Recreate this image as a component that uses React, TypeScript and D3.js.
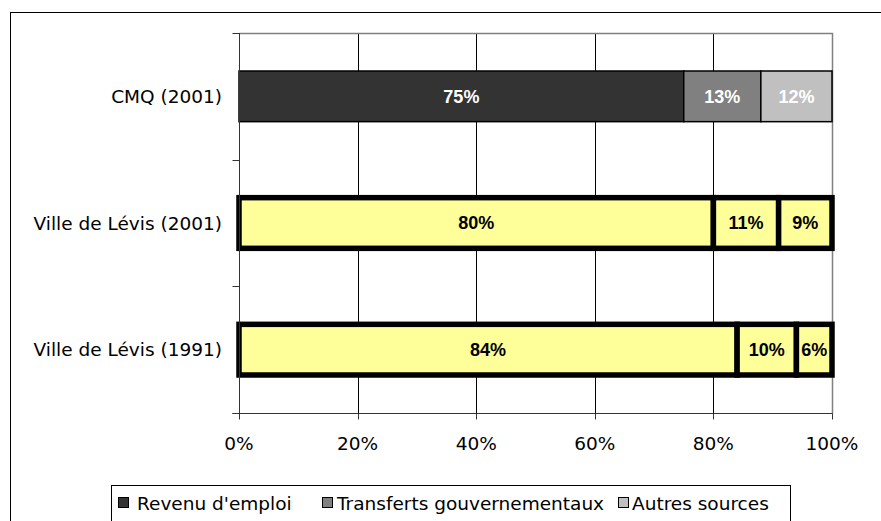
import { useEffect, useRef } from "react";
import * as d3 from "d3";

const categories = ["CMQ (2001)", "Ville de Lévis (2001)", "Ville de Lévis (1991)"];
const seriesNames = ["Revenu d'emploi", "Transferts gouvernementaux", "Autres sources"];
const revenuEmploi = [75, 80, 84];
const transferts = [13, 11, 10];
const autres = [12, 9, 6];
const xTicks = [0, 20, 40, 60, 80, 100];

const seriesColors = ["#333333", "#808080", "#C0C0C0"];
const highlight = "#FFFF99";

export default function App() {
  const svgRef = useRef<SVGSVGElement>(null);

  useEffect(() => {
    if (!svgRef.current) return;
    document.body.style.margin = "0";
    const svg = d3.select(svgRef.current);
    svg.selectAll("*").remove();

    const width = 881;
    const height = 521;
    const margin = { top: 33, right: 49, bottom: 108, left: 239 };
    const font = "'DejaVu Sans', Verdana, sans-serif";

    // outer frame
    svg.append("rect")
      .attr("x", 10.5).attr("y", 12.5)
      .attr("width", width).attr("height", height)
      .attr("fill", "#fff").attr("stroke", "#000");

    const x = d3.scaleLinear().domain([0, 100]).range([margin.left, width - margin.right]);
    const y = d3.scaleBand().domain(categories).range([margin.top, height - margin.bottom]).paddingInner(0.6).paddingOuter(0.3);
    const yBand = d3.scaleBand().domain(categories).range([margin.top, height - margin.bottom]);

    // gridlines
    svg.append("g").selectAll("line")
      .data(xTicks.filter(t => t > 0 && t < 100))
      .enter().append("line")
      .attr("x1", d => Math.round(x(d)) + 0.5).attr("x2", d => Math.round(x(d)) + 0.5)
      .attr("y1", margin.top).attr("y2", height - margin.bottom)
      .attr("stroke", "#000");

    // plot area top / right border
    const x0 = Math.round(x(0)) + 0.5;
    const x1 = Math.round(x(100)) + 0.5;
    const yTop = margin.top + 0.5;
    const yBot = height - margin.bottom + 0.5;
    svg.append("path")
      .attr("d", `M${x0},${yTop}H${x1}V${yBot}`)
      .attr("fill", "none").attr("stroke", "#808080").attr("stroke-width", 1.5);

    // stacked bars
    const rows = categories.map((c, i) => {
      const vals = [revenuEmploi[i], transferts[i], autres[i]];
      let acc = 0;
      return vals.map((v, j) => {
        const seg = { cat: c, row: i, series: j, start: acc, end: acc + v, value: v };
        acc += v;
        return seg;
      });
    });

    rows.forEach((segs, i) => {
      const g = svg.append("g");
      const isLevis = i > 0;
      g.selectAll("rect")
        .data(segs)
        .enter().append("rect")
        .attr("x", d => x(d.start))
        .attr("y", d => y(d.cat)!)
        .attr("width", d => x(d.end) - x(d.start))
        .attr("height", y.bandwidth())
        .attr("fill", d => isLevis ? highlight : seriesColors[d.series])
        .attr("stroke", "#000")
        .attr("stroke-width", isLevis ? 5.5 : 1.5);

      g.selectAll("text")
        .data(segs)
        .enter().append("text")
        .attr("x", d => (x(d.start) + x(d.end)) / 2)
        .attr("y", d => y(d.cat)! + y.bandwidth() / 2)
        .attr("dy", "0.36em")
        .attr("text-anchor", "middle")
        .attr("font-family", "'Liberation Sans', Arial, sans-serif")
        .attr("font-weight", "bold")
        .attr("font-size", 18)
        .attr("fill", isLevis ? "#000" : "#fff")
        .text(d => `${d.value}%`);
    });

    // y axis
    svg.append("line")
      .attr("x1", x0).attr("x2", x0)
      .attr("y1", margin.top).attr("y2", height - margin.bottom + 6)
      .attr("stroke", "#333");
    const yTickPos = [margin.top, ...categories.map(c => yBand(c)! + yBand.bandwidth())];
    svg.append("g").selectAll("line")
      .data(yTickPos)
      .enter().append("line")
      .attr("x1", x0 - 7).attr("x2", x0)
      .attr("y1", d => Math.round(d) + 0.5).attr("y2", d => Math.round(d) + 0.5)
      .attr("stroke", "#333");

    svg.append("g").selectAll("text")
      .data(categories)
      .enter().append("text")
      .attr("x", margin.left - 17)
      .attr("y", d => yBand(d)! + yBand.bandwidth() / 2)
      .attr("dy", "0.36em")
      .attr("text-anchor", "end")
      .attr("font-family", font)
      .attr("font-size", 18.5)
      .attr("fill", "#000")
      .text(d => d);

    // x axis
    svg.append("line")
      .attr("x1", x0 - 7).attr("x2", x1)
      .attr("y1", yBot).attr("y2", yBot)
      .attr("stroke", "#333");
    svg.append("g").selectAll("line")
      .data(xTicks)
      .enter().append("line")
      .attr("x1", d => Math.round(x(d)) + 0.5).attr("x2", d => Math.round(x(d)) + 0.5)
      .attr("y1", yBot).attr("y2", yBot + 6)
      .attr("stroke", "#333");
    svg.append("g").selectAll("text")
      .data(xTicks)
      .enter().append("text")
      .attr("x", d => x(d))
      .attr("y", yBot + 30)
      .attr("dy", "0.36em")
      .attr("text-anchor", "middle")
      .attr("font-family", font)
      .attr("font-size", 18.5)
      .attr("fill", "#000")
      .text(d => `${d}%`);

    // legend
    const legendSwatchX = [118, 322, 618];
    const legendTextX = [137, 337, 632];
    const legend = svg.append("g");
    legend.append("rect")
      .attr("x", 111.5).attr("y", 485.5)
      .attr("width", 679).attr("height", 60)
      .attr("fill", "#fff").attr("stroke", "#000");
    seriesNames.forEach((name, i) => {
      legend.append("rect")
        .attr("x", legendSwatchX[i] + 0.5).attr("y", 497.5)
        .attr("width", 10).attr("height", 10)
        .attr("fill", seriesColors[i]).attr("stroke", "#000");
      legend.append("text")
        .attr("x", legendTextX[i]).attr("y", 510)
        .attr("font-family", font)
        .attr("font-size", 18.5)
        .attr("fill", "#000")
        .text(name);
    });
  }, []);

  return <svg ref={svgRef} width={881} height={521} style={{ display: "block" }} />;
}
